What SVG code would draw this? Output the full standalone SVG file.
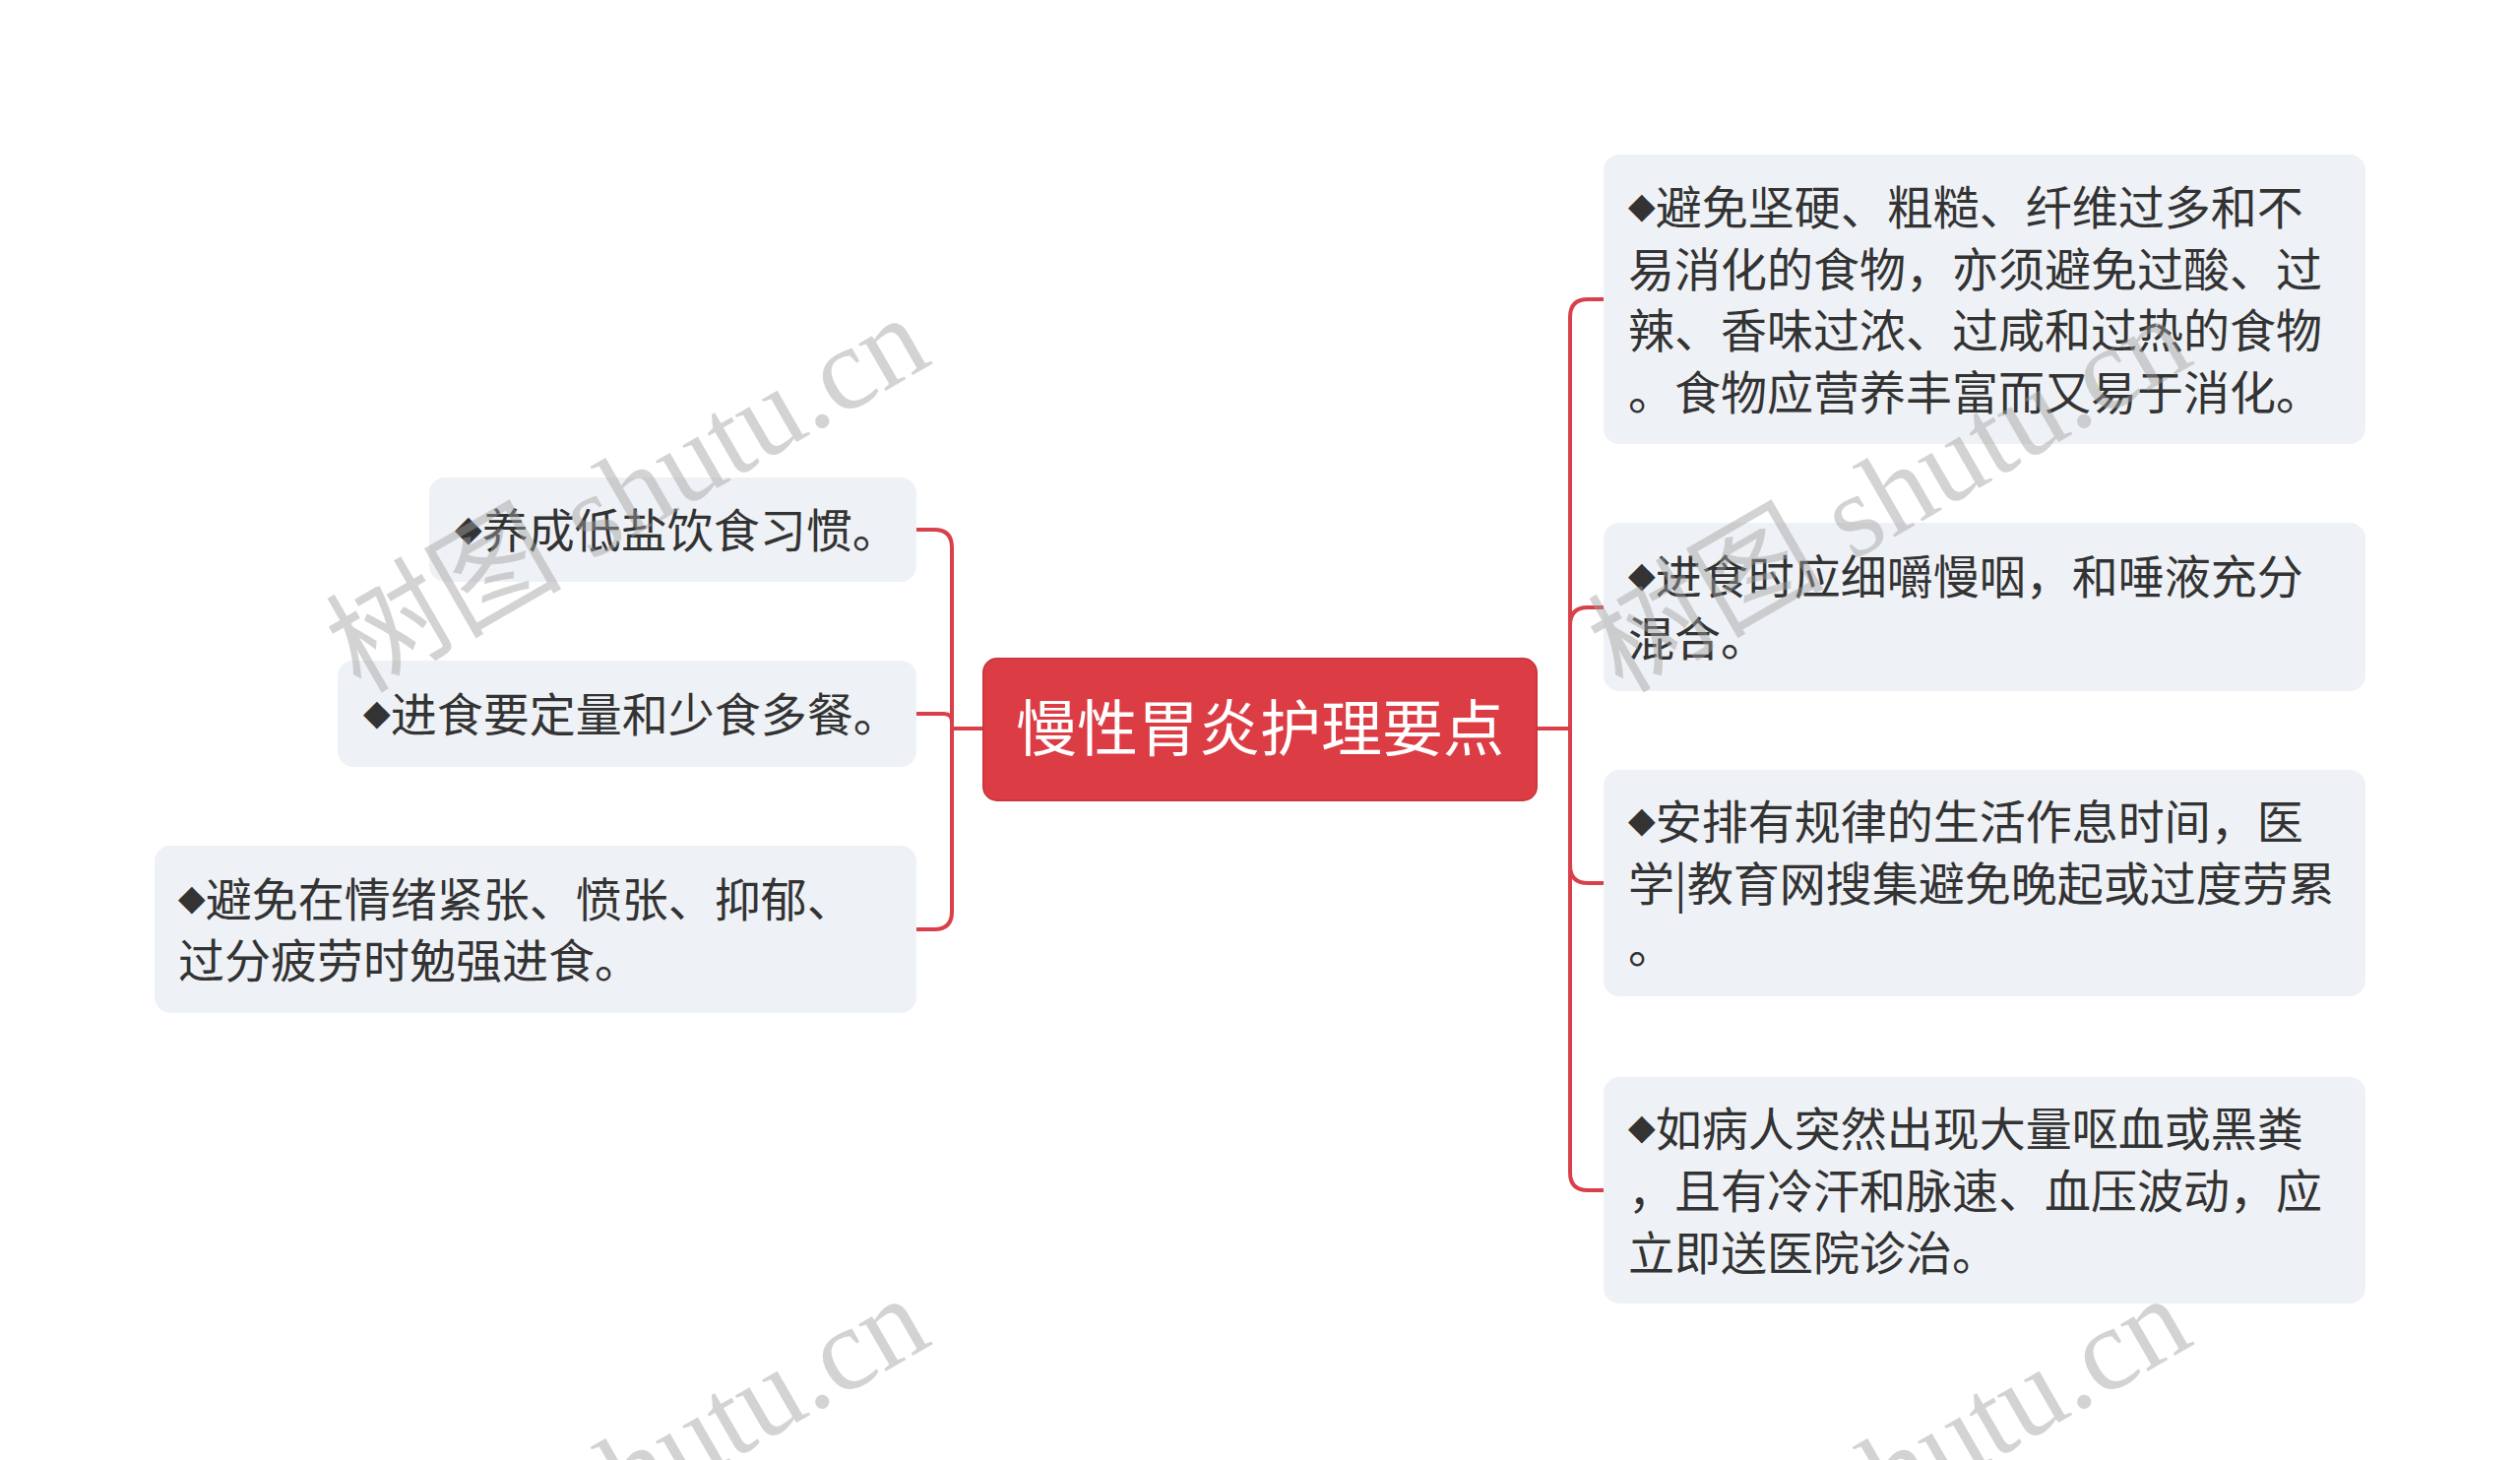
<svg xmlns="http://www.w3.org/2000/svg" width="2560" height="1483" viewBox="0 0 2560 1483">
<style>
.bg{fill:#ffffff}
.box{fill:#eef1f5}
.root{fill:#dc3d45;stroke:#cc363e;stroke-width:2}
.t{font-family:"Noto Sans CJK SC","Liberation Sans",sans-serif;font-size:47px;fill:#333333}
.d{font-family:"DejaVu Sans",sans-serif;font-size:36px;baseline-shift:7px}
.rt{font-family:"Noto Sans CJK SC","Liberation Sans",sans-serif;font-size:62px;fill:#ffffff}
.c{fill:none;stroke:#d8404a;stroke-width:4;stroke-linecap:round}
.wm{font-family:"Liberation Serif","Noto Sans CJK SC",serif;font-size:120px;fill:#a0a0a0;opacity:0.45}
</style>
<rect class="bg" x="0" y="0" width="2560" height="1483"/>
<g id="connectors">
<path class="c" d="M1561 740 H1595 V322 Q1595 304 1613 304 H1629"/>
<path class="c" d="M1561 740 H1595 V635 Q1595 617 1613 617 H1629"/>
<path class="c" d="M1561 740 H1595 V879 Q1595 897 1613 897 H1629"/>
<path class="c" d="M1561 740 H1595 V1191 Q1595 1209 1613 1209 H1629"/>
<path class="c" d="M999 740 H967 V556 Q967 538 949 538 H931"/>
<path class="c" d="M999 740 H967 V733 Q967 725 959 725 H931"/>
<path class="c" d="M999 740 H967 V926 Q967 944 949 944 H931"/>
</g>
<g id="root">
<rect class="root" x="999" y="669" width="562" height="144" rx="14"/>
<text class="rt" x="1280" y="763" text-anchor="middle">慢性胃炎护理要点</text>
</g>
<g id="node-r1">
<rect class="box" x="1629" y="157" width="774" height="294" rx="16"/>
<text class="t" x="1654" y="228"><tspan class="d">◆</tspan>避免坚硬、粗糙、纤维过多和不</text>
<text class="t" x="1654" y="291">易消化的食物，亦须避免过酸、过</text>
<text class="t" x="1654" y="353">辣、香味过浓、过咸和过热的食物</text>
<text class="t" x="1654" y="416">。食物应营养丰富而又易于消化。</text>
</g>
<g id="node-r2">
<rect class="box" x="1629" y="531" width="774" height="171" rx="16"/>
<text class="t" x="1654" y="603"><tspan class="d">◆</tspan>进食时应细嚼慢咽，和唾液充分</text>
<text class="t" x="1654" y="666">混合。</text>
</g>
<g id="node-r3">
<rect class="box" x="1629" y="782" width="774" height="230" rx="16"/>
<text class="t" x="1654" y="852"><tspan class="d">◆</tspan>安排有规律的生活作息时间，医</text>
<text class="t" x="1654" y="915">学|教育网搜集避免晚起或过度劳累</text>
<text class="t" x="1654" y="978">。</text>
</g>
<g id="node-r4">
<rect class="box" x="1629" y="1094" width="774" height="230" rx="16"/>
<text class="t" x="1654" y="1164"><tspan class="d">◆</tspan>如病人突然出现大量呕血或黑粪</text>
<text class="t" x="1654" y="1227">，且有冷汗和脉速、血压波动，应</text>
<text class="t" x="1654" y="1290">立即送医院诊治。</text>
</g>
<g id="node-l1">
<rect class="box" x="436" y="485" width="495" height="106" rx="16"/>
<text class="t" x="462" y="556"><tspan class="d">◆</tspan>养成低盐饮食习惯。</text>
</g>
<g id="node-l2">
<rect class="box" x="343" y="671" width="588" height="108" rx="16"/>
<text class="t" x="369" y="743"><tspan class="d">◆</tspan>进食要定量和少食多餐。</text>
</g>
<g id="node-l3">
<rect class="box" x="157" y="859" width="774" height="170" rx="16"/>
<text class="t" x="181" y="931"><tspan class="d">◆</tspan>避免在情绪紧张、愤张、抑郁、</text>
<text class="t" x="181" y="993">过分疲劳时勉强进食。</text>
</g>
<g id="watermarks">
<text class="wm" transform="translate(366 705) rotate(-30)">树图 shutu.cn</text>
<text class="wm" transform="translate(1648 705) rotate(-30)">树图 shutu.cn</text>
<text class="wm" transform="translate(366 1701) rotate(-30)">树图 shutu.cn</text>
<text class="wm" transform="translate(1648 1701) rotate(-30)">树图 shutu.cn</text>
</g>
</svg>
